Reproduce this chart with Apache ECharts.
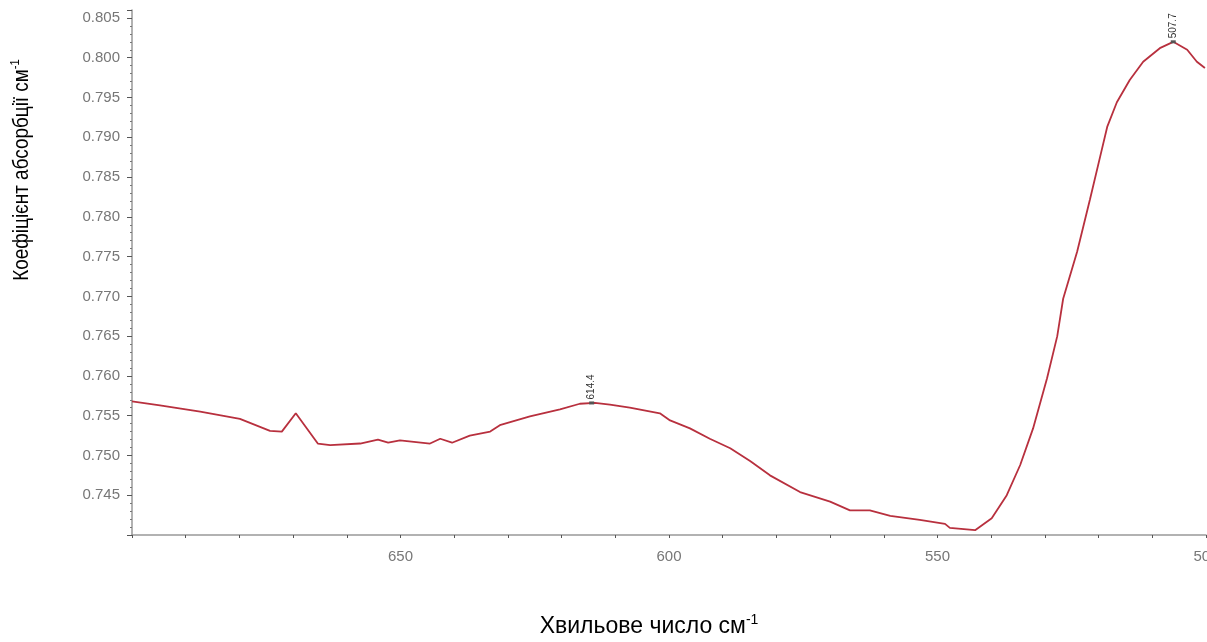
<!DOCTYPE html>
<html>
<head>
<meta charset="utf-8">
<script src="https://cdn.jsdelivr.net/npm/echarts@6/dist/echarts.min.js"></script>
<style>
    html, body { margin: 0; padding: 0; background: #fff; }
    #chart { width: 1207px; height: 642px; }
</style>
</head>
<body>
<div id="chart"></div>
<script>
// хвильове число, см-1
var wavenumber = [700.0, 694.8, 687.3, 679.9, 674.3, 672.1, 669.5, 665.4, 663.1, 657.5, 654.2, 652.3, 650.1,
    644.5, 642.6, 640.4, 637.1, 633.3, 631.5, 625.9, 620.3, 616.6, 613.8, 611.0, 607.3, 601.7, 599.8,
    596.1, 592.4, 588.6, 584.9, 581.2, 575.6, 570.0, 566.3, 562.6, 558.8, 553.3, 548.6, 547.7, 543.0,
    539.9, 537.1, 534.6, 532.2, 529.6, 527.7, 526.6, 524.0, 521.6, 519.7, 518.4, 516.6, 514.2, 511.7,
    508.6, 506.1, 503.5, 501.7, 500.2];
// коефіцієнт абсорбції
var absorbance = [0.7568, 0.7563, 0.7555, 0.7546, 0.7531, 0.7530, 0.7553, 0.7515, 0.7513, 0.7515, 0.7520, 0.7516, 0.7519,
    0.7515, 0.7521, 0.7516, 0.7525, 0.7530, 0.7538, 0.7549, 0.7558, 0.7565, 0.7566, 0.7564, 0.7560, 0.7553, 0.7544,
    0.7534, 0.7521, 0.7509, 0.7493, 0.7475, 0.7454, 0.7442, 0.7431, 0.7431, 0.7424, 0.7419, 0.7414, 0.7409, 0.7406,
    0.7421, 0.7450, 0.7488, 0.7534, 0.7597, 0.7650, 0.7697, 0.7756, 0.7822, 0.7876, 0.7913, 0.7944, 0.7972, 0.7995,
    0.8012, 0.8020, 0.8010, 0.7995, 0.7987];
// підписи піків
var peakX = [614.4, 506.1];
var peakY = [0.7566, 0.8020];
var peakLabels = ['614.4', '507.7'];

var xTitle = 'Хвильове число см{sup|-1}';
var yTitle = 'Коефіцієнт абсорбції см{sup|-1}';

var lineData = [];
for (var i = 0; i < wavenumber.length; i++) {
    lineData.push([wavenumber[i], absorbance[i]]);
}
var peaks = [];
for (var k = 0; k < peakX.length; k++) {
    peaks.push({ coord: [peakX[k], peakY[k]], value: peakLabels[k] });
}

var tickFont = { color: '#777', fontSize: 15, fontFamily: 'Liberation Sans, Arial' };

var chart = echarts.init(document.getElementById('chart'), null, { renderer: 'canvas' });
chart.setOption({
    animation: false,
    backgroundColor: '#fff',
    grid: { left: 132, right: 1, top: 10, bottom: 107, containLabel: false, outerBoundsMode: 'none' },
    xAxis: {
        type: 'value',
        inverse: true,
        min: 500,
        max: 700,
        interval: 10,
        name: xTitle,
        nameLocation: 'middle',
        nameGap: 78,
        nameTextStyle: {
            fontSize: 23, color: '#000', fontFamily: 'Liberation Sans, Arial', padding: [0, 40, 0, 0],
            rich: { sup: { fontSize: 14, padding: [0, 0, 14, 0], color: '#000', fontFamily: 'Liberation Sans, Arial' } }
        },
        axisLine: { lineStyle: { color: '#999', width: 1.5 } },
        axisTick: { show: true, length: 3, lineStyle: { color: '#555' } },
        splitLine: { show: false },
        axisLabel: Object.assign({
            margin: 14,
            formatter: function (v) {
                if (v % 50 == 0 && v < 700) return String(v);
                return '';
            }
        }, tickFont)
    },
    yAxis: {
        type: 'value',
        min: 0.740,
        max: 0.806,
        interval: 0.005,
        axisLine: { show: true, lineStyle: { color: '#999', width: 1.5 } },
        axisTick: { show: true, length: 5, lineStyle: { color: '#555' } },
        minorTick: { show: true, splitNumber: 5, length: 2, lineStyle: { color: '#777' } },
        splitLine: { show: false },
        axisLabel: Object.assign({
            margin: 12,
            showMaxLabel: false,
            formatter: function (v) {
                var r = Math.round(v * 1000);
                if (r < 745 || r > 805 || r % 5 != 0) return '';
                return (r / 1000).toFixed(3);
            }
        }, tickFont)
    },
    // назва осі ординат (стиснений шрифт, як в оригіналі)
    graphic: [{
        type: 'text',
        x: 22,
        y: 170,
        rotation: Math.PI / 2,
        scaleX: 0.86,
        style: {
            text: yTitle,
            fill: '#000',
            fontSize: 22,
            fontFamily: 'Liberation Sans, Arial',
            align: 'center',
            verticalAlign: 'middle',
            rich: { sup: { fontSize: 13, padding: [0, 0, 13, 0], fill: '#000', fontFamily: 'Liberation Sans, Arial' } }
        }
    }],
    series: [{
        type: 'line',
        data: lineData,
        symbol: 'none',
        smooth: false,
        lineStyle: { color: '#b8303e', width: 1.8 },
        markPoint: {
            symbol: 'rect',
            symbolSize: [5, 3],
            itemStyle: { color: '#555' },
            label: {
                show: true,
                position: 'top',
                rotate: 90,
                align: 'left',
                verticalAlign: 'middle',
                distance: 2,
                color: '#333',
                fontSize: 10,
                fontFamily: 'Liberation Sans, Arial',
                formatter: function (p) { return p.value; }
            },
            data: peaks
        }
    }]
});
</script>
</body>
</html>
